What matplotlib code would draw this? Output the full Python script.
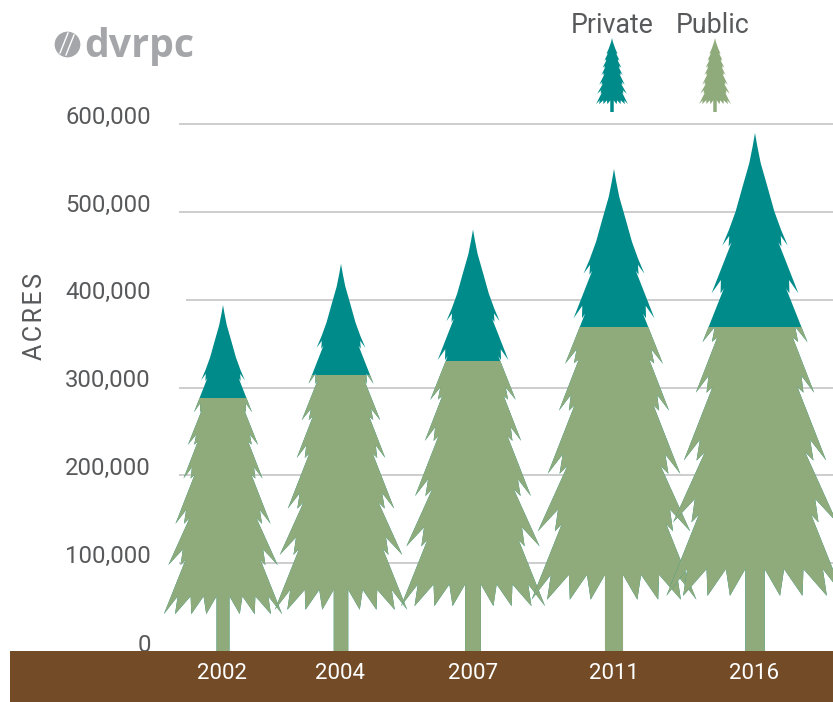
import matplotlib
matplotlib.use('Agg')
import matplotlib.pyplot as plt
from matplotlib.patches import Polygon, Rectangle

plt.rcParams['font.family'] = ['Roboto', 'DejaVu Sans']

years = ['2002', '2004', '2007', '2011', '2016']
public_acres = [288000, 314000, 330000, 369000, 369000]
private_acres = [106000, 127000, 150000, 180000, 221000]
y_ticks = [0, 100000, 200000, 300000, 400000, 500000, 600000]

# centre of each tree and of its year label, in pixels
tree_x = [223, 341, 473, 614, 755]
label_x = [222.5, 339.5, 473.5, 614.5, 754.5]

TEAL = '#008B8B'
GREEN = '#8FAB7B'
BROWN = '#734C27'
TEXT = '#58595B'
GRID = '#C9C9C9'
LOGO = '#A4A6A9'

PX_PER_ACRE = 87.8 / 100000

# right half of the tree outline: dx and depth from the top, traced at 3x zoom
# on the 2016 tree, so 1550 units = full height
OUTLINE = [
    (0, 0), (7, 40), (17, 90), (37, 160), (58, 235), (78, 290), (98, 337),
    (77, 308), (79, 340), (70, 327),
    (130, 480), (102, 440), (103, 480), (93, 465),
    (157, 626), (120, 580), (129, 625), (113, 612),
    (177, 777), (139, 727), (145, 777), (127, 760),
    (213, 980), (165, 918), (175, 980), (150, 955),
    (245, 1165), (180, 1095), (190, 1165), (168, 1142),
    (265, 1385), (203, 1305), (215, 1385), (145, 1305),
    (142, 1385), (87, 1305), (75, 1385), (29, 1305), (29, 1550),
]


def tree_points(cx, base, height_acres, width_scale=1.0):
    """Outline of one tree in data coordinates"""
    height_px = height_acres * PX_PER_ACRE
    right = [(cx + dx / 1550 * height_px * width_scale,
              base + height_acres * (1 - d / 1550)) for dx, d in OUTLINE]
    left = [(2 * cx - x, y) for x, y in reversed(right[1:])]
    return right + left


def draw_tree(ax, cx, base, height_acres, color, width_scale=1.0, split=None, split_color=None, z=3):
    pts = tree_points(cx, base, height_acres, width_scale)
    ax.add_patch(Polygon(pts, closed=True, facecolor=color, edgecolor='none', zorder=z))
    if split is not None:
        lower = Polygon(pts, closed=True, facecolor=split_color, edgecolor='none', zorder=z)
        ax.add_patch(lower)
        lower.set_clip_path(Rectangle((0, base), 833, split, transform=ax.transData))


fig = plt.figure(figsize=(8.33, 7.02), dpi=100)
ax = fig.add_axes([0, 0, 1, 1])
ax.set_xlim(0, 833)
ax.set_ylim(-51 / PX_PER_ACRE, 651 / PX_PER_ACRE)
ax.axis('off')

# grid and tick labels
for v in y_ticks:
    if v > 0:
        ax.plot([186 if v == 400000 else 179, 833], [v, v], color=GRID, lw=1.3, zorder=1,
                solid_capstyle='butt')
    offset = 7 if v > 0 else 6
    ax.text(151, v + offset / PX_PER_ACRE, f'{v:,}', ha='right', va='center', fontsize=17.2, color=TEXT)

ax.text(35, 334 / PX_PER_ACRE, 'A C R E S'.replace(' ', '\u200a'), rotation=90, ha='center', va='center',
        fontsize=18, color=TEXT)

# trees
for i, year in enumerate(years):
    total = public_acres[i] + private_acres[i]
    draw_tree(ax, tree_x[i], 0, total, TEAL, split=public_acres[i], split_color=GREEN, z=3 + i)

# ground
ax.add_patch(Rectangle((10, -51 / PX_PER_ACRE), 823, 51 / PX_PER_ACRE, facecolor=BROWN, edgecolor='none', zorder=10))
for i, year in enumerate(years):
    ax.text(label_x[i], -22.5 / PX_PER_ACRE, year, ha='center', va='center', fontsize=16, color='white', zorder=11)

# legend
legend_base = 539 / PX_PER_ACRE
legend_height = 74 / PX_PER_ACRE
ax.text(612, 625.5 / PX_PER_ACRE, 'Private', ha='center', va='center', fontsize=19.3, color=TEXT)
ax.text(712.5, 625.5 / PX_PER_ACRE, 'Public', ha='center', va='center', fontsize=19.3, color=TEXT)
draw_tree(ax, 612, legend_base, legend_height, TEAL, width_scale=1.26)
draw_tree(ax, 715, legend_base, legend_height, GREEN, width_scale=1.26)

# logo
logo_y = 607 / PX_PER_ACRE
ax.text(84, 605 / PX_PER_ACRE, 'dvrpc', ha='left', va='center', fontsize=28.3, fontweight='bold',
        family=['Open Sans', 'DejaVu Sans'], color=LOGO)
ax.plot([67], [logo_y], 'o', ms=18.5, color=LOGO, mew=0, zorder=2)
ax.plot([60, 68], [logo_y - 9 / PX_PER_ACRE, logo_y + 11 / PX_PER_ACRE], color='white', lw=1, zorder=3)
ax.plot([66, 74], [logo_y - 11 / PX_PER_ACRE, logo_y + 9 / PX_PER_ACRE], color='white', lw=1, zorder=3)

fig.savefig('out.png', dpi=100)
